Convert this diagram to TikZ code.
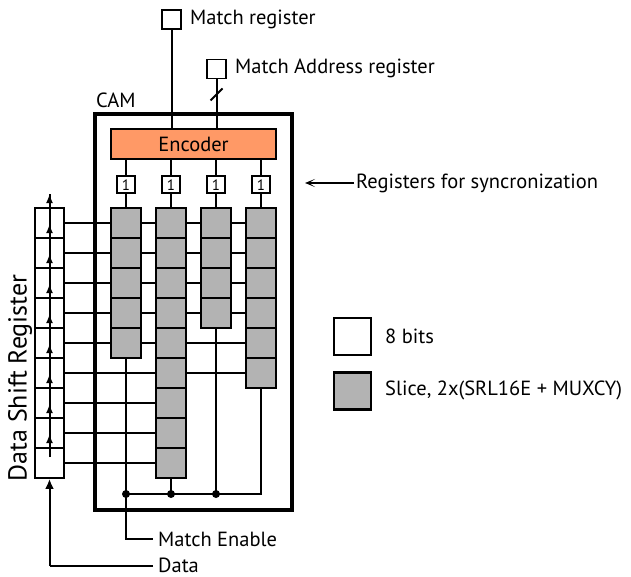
\documentclass[tikz,border=0pt]{standalone}
\usepackage{fontspec}
\setmainfont{PT Sans}
\usetikzlibrary{arrows.meta}
\definecolor{slicegray}{RGB}{179,179,179}
\definecolor{encorange}{RGB}{255,153,102}
\begin{document}
\begin{tikzpicture}[x=1pt,y=-1pt,
  font=\fontsize{20.5}{24}\selectfont,
  wire/.style={line width=2pt},
  camframe/.style={draw,line width=4pt},
  slicebox/.style={draw,line width=2.2pt,fill=slicegray,minimum width=30pt,minimum height=30pt,inner sep=0pt},
  dsrcell/.style={draw,line width=1.9pt,fill=white,minimum width=29pt,minimum height=30pt,inner sep=0pt},
  syncreg/.style={draw,line width=1.7pt,fill=white,minimum width=18pt,minimum height=17pt,inner sep=0pt,font=\fontsize{15}{16}\selectfont},
  outreg/.style={draw,line width=1.9pt,fill=white,minimum width=19pt,minimum height=19pt,inner sep=0pt},
  legendbox/.style={draw,line width=2.2pt,minimum width=37pt,minimum height=37pt,inner sep=0pt},
  lbl/.style={anchor=west,inner sep=0pt},
  shiftarrow/.style={wire,-{Latex[length=9pt,width=7pt]}},
  dot/.style={circle,fill=black,inner sep=0pt,minimum size=8pt},
]
\useasboundingbox (0,0) rectangle (631,577);

% CAM frame
\node[camframe,minimum width=197pt,minimum height=396pt,inner sep=0pt] (cam) at (193.5,312) {};
\node[lbl] (camlbl) at (96,100) {CAM};

% encoder
\node[draw,line width=1.9pt,fill=encorange,minimum width=165pt,minimum height=30pt,inner sep=0pt] (enc) at (193.5,144) {Encoder};

% synchronisation registers and slice columns
\foreach \c/\n in {1/5,2/9,3/4,4/6}{
  \pgfmathsetmacro\cx{81+45*\c}
  \node[syncreg] (r\c) at (\cx,184.7) {1};
  \foreach \k in {1,...,\n}{
    \node[slicebox] (s\c-\k) at (\cx,193+30*\k) {};
  }
}

% data shift register
\foreach \k in {1,...,9}{
  \node[dsrcell] (d\k) at (49.5,193+30*\k) {};
}
\node[rotate=90,font=\fontsize{26}{30}\selectfont] (dsrlbl) at (20,378) {Data Shift Register};

% shift path through the register
\draw[wire] ([yshift=-10pt]d9.north) -- ([yshift=13pt]d1.north);
\foreach \k in {1,...,9}{
  \draw[shiftarrow] ([yshift=5pt]d\k.north) -- ([yshift=13pt]d\k.north);
}

% data rows into the slices
\foreach \k in {1,...,4}{
  \draw[wire] (d\k.east) -- (s1-\k.west) (s1-\k.east) -- (s2-\k.west)
    (s2-\k.east) -- (s3-\k.west) (s3-\k.east) -- (s4-\k.west);
}
\draw[wire] (d5.east) -- (s1-5.west) (s1-5.east) -- (s2-5.west) (s2-5.east) -- (s4-5.west);
\draw[wire] (d6.east) -- (s2-6.west) (s2-6.east) -- (s4-6.west);
\foreach \k in {7,8,9}{
  \draw[wire] (d\k.east) -- (s2-\k.west);
}
% slices redrawn on top of the row wires
\foreach \c/\n in {1/5,2/9,3/4,4/6}{
  \foreach \k in {1,...,\n}{
    \node[slicebox] at (s\c-\k) {};
  }
}

% encoder to sync registers to slices
\foreach \c/\n in {1/5,2/9,3/4,4/6}{
  \draw[wire] (r\c.north) -- (r\c.north |- enc.south);
  \draw[wire] (r\c.south) -- (s\c-1.north);
}

% match enable bus
\coordinate (b1) at (126,494);
\coordinate (b2) at (171,494);
\coordinate (b3) at (216,494);
\coordinate (b4) at (261,494);
\draw[wire] (s1-5.south) -- (b1);
\draw[wire] (s2-9.south) -- (b2);
\draw[wire] (s3-4.south) -- (b3);
\draw[wire] (s4-6.south) -- (b4) -- (b1);
\node[dot] at (b1) {};
\node[dot] at (b2) {};
\node[dot] at (b3) {};
\node[lbl,anchor=west] (melbl) at (158,539) {Match Enable};
\draw[wire] (b1) |- ([xshift=-5pt]melbl.west);

% data input
\node[lbl] (datalbl) at (158,565) {Data};
\coordinate (dcorner) at (49.5,566);
\draw[wire] (dcorner -| datalbl.west) ++(-5,0) -- (dcorner);
\draw[wire,-{Latex[length=10pt,width=9pt]}] (dcorner) -- (d9.south);

% output registers
\node[outreg] (mreg) at (171.5,19.5) {};
\node[lbl] (mreglbl) at (190,19) {Match register};
\draw[wire] (mreg.south) -- (mreg.south |- enc.north);
\node[outreg] (areg) at (216.5,69) {};
\node[lbl] (areglbl) at (235,68) {Match Address register};
\draw[wire] (areg.south) -- (areg.south |- enc.north);
\coordinate (bus) at (216.5,94.5);
\draw[wire] ([shift={(-6,6)}]bus) -- ([shift={(6,-6)}]bus);

% annotation of the sync registers
\node[lbl] (synclbl) at (356,183) {Registers for syncronization};
\draw[line width=1.5pt,-{Stealth[length=10pt,width=8pt,inset=6pt]}] ([xshift=-2pt]synclbl.west) -- (305,183);

% legend
\node[legendbox,fill=white] (leg1) at (352.5,336.5) {};
\node[lbl] (leg1lbl) at (385,336) {8 bits};
\node[legendbox,fill=slicegray] (leg2) at (352.5,391) {};
\node[lbl] (leg2lbl) at (385,390) {Slice, 2x(SRL16E + MUXCY)};
\end{tikzpicture}
\end{document}
